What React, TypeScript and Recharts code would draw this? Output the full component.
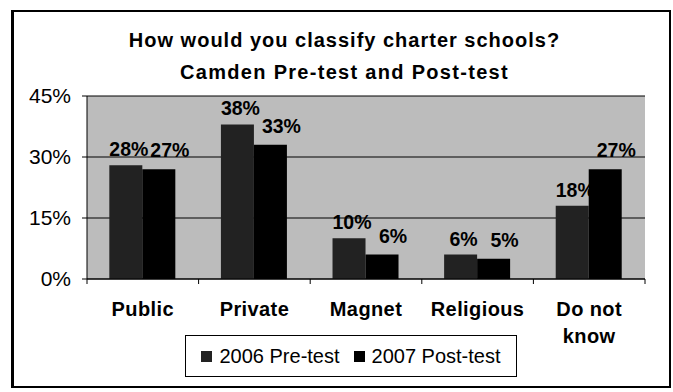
import React from 'react';
import { BarChart, Bar, XAxis, YAxis, CartesianGrid, LabelList } from 'recharts';

const categories = ['Public', 'Private', 'Magnet', 'Religious', 'Do not know'];
const preTest2006 = [28, 38, 10, 6, 18];
const postTest2007 = [27, 33, 6, 5, 27];
const yTicks = [0, 15, 30, 45];

const seriesNames = ['2006 Pre-test', '2007 Post-test'];
const seriesColors = ['#222222', '#000000'];

const data = categories.map((name, i) => ({
  name,
  pre: preTest2006[i],
  post: postTest2007[i],
}));

const FONT = '"Liberation Sans", Arial, sans-serif';

// category label under the axis, with Excel-style ticks between categories
function CategoryTick(props: any) {
  const { x, y, payload, index } = props;
  const half = payload && payload.offset ? payload.offset : 55.8;
  const words = String(payload.value).split(' ');
  const lines = words.length > 2 ? [words.slice(0, 2).join(' '), words.slice(2).join(' ')] : [words.join(' ')];
  return (
    <g>
      <line x1={x - half} x2={x - half} y1={y - 5} y2={y} stroke="#000" />
      {index === categories.length - 1 && <line x1={x + half} x2={x + half} y1={y - 5} y2={y} stroke="#000" />}
      <text x={x} y={y + 32} textAnchor="middle" fontFamily={FONT} fontWeight="bold" fontSize={20} letterSpacing={0.4} fill="#000">
        {lines.map((l, i) => (
          <tspan key={i} x={x} dy={i === 0 ? 0 : 27}>{l}</tspan>
        ))}
      </text>
    </g>
  );
}

const pct = (v: any) => `${v}%`;

export default function App() {
  return (
    <div style={{ position: 'relative', width: 673, height: 392, background: '#fff', fontFamily: FONT }}>
      <style>{'body{margin:0}'}</style>
      <div style={{ position: 'absolute', left: 11, top: 10, width: 655, height: 374, border: '2px solid #000', borderLeftWidth: 3 }} />
      <div
        style={{
          position: 'absolute', left: 8, width: 673, top: 24, textAlign: 'center',
          fontWeight: 'bold', fontSize: 20, letterSpacing: 1, lineHeight: '32px',
        }}
      >
        How would you classify charter schools?
        <br />
        <span style={{ letterSpacing: 1.3 }}>Camden Pre-test and Post-test</span>
      </div>
      <BarChart
        width={673}
        height={392}
        data={data}
        margin={{ top: 96, right: 28, bottom: 53, left: 0 }}
        barCategoryGap="20%"
        barGap={0}
        style={{ position: 'absolute', left: 0, top: 0 }}
      >
        <CartesianGrid vertical={false} stroke="#000" fill="#bcbcbc" fillOpacity={1} />
        <XAxis
          dataKey="name"
          height={60}
          tickSize={5}
          tickMargin={0}
          tickLine={false}
          axisLine={{ stroke: '#000' }}
          tick={<CategoryTick />}
          interval={0}
        />
        <YAxis
          domain={[0, 45]}
          ticks={yTicks}
          width={87}
          tickSize={5}
          tickMargin={11}
          tickFormatter={pct}
          tick={{ fill: '#000', fontSize: 21, fontFamily: FONT }}
          tickLine={{ stroke: '#000' }}
          axisLine={{ stroke: '#000' }}
        />
        <YAxis yAxisId="right" orientation="right" domain={[0, 45]} width={0} tick={false} tickLine={false} axisLine={{ stroke: '#000' }} />
        <Bar dataKey="pre" name={seriesNames[0]} fill={seriesColors[0]} isAnimationActive={false}>
          <LabelList dataKey="pre" position="top" offset={9} dx={3} formatter={pct} fill="#000" fontSize={19.5} fontWeight="bold" fontFamily={FONT} />
        </Bar>
        <Bar dataKey="post" name={seriesNames[1]} fill={seriesColors[1]} isAnimationActive={false}>
          <LabelList dataKey="post" position="top" offset={12} dx={11} formatter={pct} fill="#000" fontSize={19.5} fontWeight="bold" fontFamily={FONT} />
        </Bar>
      </BarChart>
      <div
        style={{
          position: 'absolute', left: 185, top: 335, width: 330, height: 40, border: '1px solid #000',
          display: 'flex', alignItems: 'center', justifyContent: 'center', gap: 14, fontSize: 20, background: '#fff',
        }}
      >
        {seriesNames.map((n, i) => (
          <span key={n} style={{ display: 'flex', alignItems: 'center', gap: 7 }}>
            <span style={{ display: 'inline-block', width: 11, height: 11, background: seriesColors[i] }} />
            {n}
          </span>
        ))}
      </div>
    </div>
  );
}
